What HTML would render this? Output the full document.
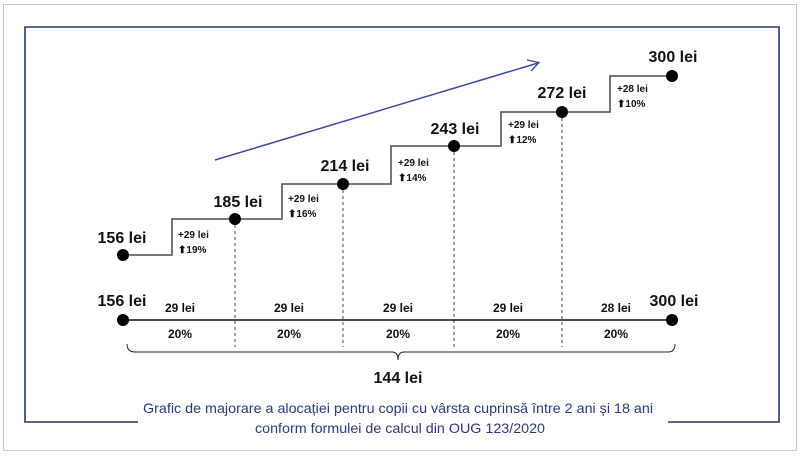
<!DOCTYPE html>
<html><head><meta charset="utf-8"><style>
body{margin:0;background:#fff}
svg text{font-family:"Liberation Sans Narrow","Liberation Sans",sans-serif}
</style></head><body>
<svg width="800" height="455" viewBox="0 0 800 455" xmlns="http://www.w3.org/2000/svg">
<rect x="3.5" y="4.5" width="793" height="446" fill="#fff" stroke="#c8c8c8" stroke-width="1"/>
<path d="M138 422 H25 V27 H779 V422 H668" fill="none" stroke="#2b3566" stroke-width="1.6"/>
<line x1="215" y1="160" x2="538" y2="63" stroke="#3a4a9a" stroke-width="1.5"/>
<path d="M527 60 L539 62.5 L531 71" fill="none" stroke="#3a4a9a" stroke-width="1.3"/>
<path d="M123 255 H172 V219 H282 V184 H391 V146 H501 V112 H610 V76 H672" fill="none" stroke="#666" stroke-width="1.8"/>
<g stroke="#444" stroke-width="1" stroke-dasharray="3,3">
<line x1="235" y1="219" x2="235" y2="347"/><line x1="343" y1="184" x2="343" y2="347"/>
<line x1="454" y1="146" x2="454" y2="347"/><line x1="562" y1="112" x2="562" y2="347"/>
</g>
<line x1="123" y1="320" x2="672" y2="320" stroke="#111" stroke-width="1.6"/>
<g fill="#000">
<circle cx="123" cy="255" r="6"/><circle cx="235" cy="219" r="6"/><circle cx="343" cy="184" r="6"/>
<circle cx="454" cy="146" r="6"/><circle cx="562" cy="112" r="6"/><circle cx="672" cy="76" r="6"/>
<circle cx="123" cy="320" r="6"/><circle cx="672" cy="320" r="6"/>
</g>
<g font-weight="bold" font-size="16" fill="#111" text-anchor="middle">
<text x="122" y="243">156 lei</text><text x="238" y="207">185 lei</text><text x="345" y="171">214 lei</text>
<text x="455" y="134">243 lei</text><text x="562" y="98">272 lei</text><text x="673" y="62">300 lei</text>
<text x="122" y="306">156 lei</text><text x="674" y="306">300 lei</text>
<text x="398" y="383">144 lei</text>
</g>
<g font-weight="bold" font-size="10" fill="#111">
<text x="178" y="238">+29 lei</text><text x="178" y="253">⬆19%</text>
<text x="288" y="202">+29 lei</text><text x="288" y="217">⬆16%</text>
<text x="398" y="166">+29 lei</text><text x="398" y="181">⬆14%</text>
<text x="508" y="128">+29 lei</text><text x="508" y="143">⬆12%</text>
<text x="617" y="92">+28 lei</text><text x="617" y="107">⬆10%</text>
</g>
<g font-weight="bold" font-size="12" fill="#111" text-anchor="middle">
<text x="180" y="312">29 lei</text><text x="289" y="312">29 lei</text><text x="398" y="312">29 lei</text><text x="508" y="312">29 lei</text><text x="616" y="312">28 lei</text>
<text x="180" y="338">20%</text><text x="289" y="338">20%</text><text x="398" y="338">20%</text><text x="508" y="338">20%</text><text x="616" y="338">20%</text>
</g>
<path d="M127 344 Q127 352 135 352 H392 Q398 352 398 360 Q398 352 404 352 H668 Q675 352 675 344" fill="none" stroke="#222" stroke-width="1"/>
<g font-size="14" fill="#2b3a7a" text-anchor="middle">
<text x="398" y="413" textLength="510" lengthAdjust="spacingAndGlyphs">Grafic de majorare a alocației pentru copii cu vârsta cuprinsă între 2 ani și 18 ani</text>
<text x="400" y="433" textLength="290" lengthAdjust="spacingAndGlyphs">conform formulei de calcul din OUG 123/2020</text>
</g>
</svg>
</body></html>
